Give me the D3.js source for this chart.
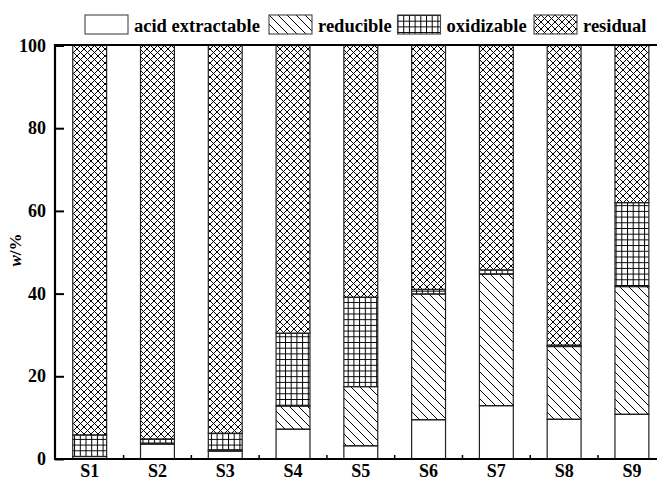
<!DOCTYPE html>
<html>
<head>
<meta charset="utf-8">
<script src="https://cdn.jsdelivr.net/npm/d3@7"></script>
<style>
  body { margin: 0; background: #fff; }
</style>
</head>
<body>
<div class="container"></div>
<script>
// Chart data
const categories = ["S1", "S2", "S3", "S4", "S5", "S6", "S7", "S8", "S9"];
const acid = [0.6, 3.6, 1.9, 7.2, 3.2, 9.5, 12.9, 9.6, 10.8];
const reducible = [0, 0.2, 0.3, 5.6, 14.3, 30.4, 31.8, 17.6, 30.9];
const oxidizable = [5.2, 1.0, 4.0, 17.6, 21.6, 1.1, 1.0, 0.3, 20.3];
const residual = [94.2, 95.2, 93.8, 69.6, 60.9, 59.0, 54.3, 72.5, 38.0];
const seriesNames = ["acid extractable", "reducible", "oxidizable", "residual"];
const yTicks = [0, 20, 40, 60, 80, 100];

const width = 657;
const height = 480;
const serif = "'Liberation Serif', 'Times New Roman', 'DejaVu Serif', serif";

const svg = d3.select(".container").append("svg")
    .attr("width", width)
    .attr("height", height)
    .attr("font-family", serif)
    .attr("font-weight", "bold");

// Hatch patterns
const defs = svg.append("defs");

const pReduc = defs.append("pattern")
    .attr("id", "p-reducible")
    .attr("patternUnits", "userSpaceOnUse")
    .attr("width", 9).attr("height", 9);
pReduc.append("path")
    .attr("d", "M-1,-1 L10,10 M-10,-1 L1,10 M8,-1 L19,10")
    .attr("stroke", "#000").attr("stroke-width", 1);

const pOxid = defs.append("pattern")
    .attr("id", "p-oxidizable")
    .attr("patternUnits", "userSpaceOnUse")
    .attr("width", 5.7).attr("height", 5.7);
pOxid.append("path")
    .attr("d", "M0,0.5 H5.7 M0.5,0 V5.7")
    .attr("stroke", "#000").attr("stroke-width", 1);

const pResid = defs.append("pattern")
    .attr("id", "p-residual")
    .attr("patternUnits", "userSpaceOnUse")
    .attr("width", 7).attr("height", 7);
pResid.append("path")
    .attr("d", "M-1,-1 L8,8 M-1,8 L8,-1 M-8,-1 L1,8 M6,-1 L15,8 M-1,15 L8,6 M-1,1 L1,-1")
    .attr("stroke", "#000").attr("stroke-width", 1);

const fills = ["#fff", "url(#p-reducible)", "url(#p-oxidizable)", "url(#p-residual)"];

// Scales
const x = d3.scaleBand()
    .domain(categories)
    .range([55.8, 665.8])
    .paddingInner(0.5)
    .paddingOuter(0.25);

const y = d3.scaleLinear()
    .domain([0, 100])
    .range([459, 45.5]);

// stacked table
const table = categories.map((c, i) => ({
  cat: c,
  "acid extractable": acid[i],
  "reducible": reducible[i],
  "oxidizable": oxidizable[i],
  "residual": residual[i]
}));
const stacked = d3.stack().keys(seriesNames)(table);

svg.append("g")
  .selectAll("g")
  .data(stacked)
  .enter().append("g")
    .attr("fill", (d, i) => fills[i])
  .selectAll("rect")
  .data(d => d)
  .enter().append("rect")
    .attr("x", d => x(d.data.cat))
    .attr("width", x.bandwidth())
    .attr("y", d => y(d[1]))
    .attr("height", d => y(d[0]) - y(d[1]))
    .attr("stroke", "#222")
    .attr("stroke-width", 1.2);

// Axes
const yAxis = svg.append("g")
    .attr("transform", "translate(55,0)")
    .call(d3.axisRight(y).tickValues(yTicks).tickSize(9).tickFormat(""));
yAxis.select(".domain").remove();
yAxis.selectAll("line").attr("stroke", "#000").attr("stroke-width", 2);

svg.append("g")
  .selectAll("text")
  .data(yTicks)
  .enter().append("text")
    .attr("x", 46)
    .attr("y", d => y(d) + 6)
    .attr("text-anchor", "end")
    .attr("font-size", 18)
    .text(d => d);

// x ticks between bars
const bounds = categories.slice(1).map(c => x(c) - x.step() * x.paddingInner() / 2);
svg.append("g")
  .selectAll("line")
  .data(bounds)
  .enter().append("line")
    .attr("x1", d => d).attr("x2", d => d)
    .attr("y1", 459).attr("y2", 455)
    .attr("stroke", "#000").attr("stroke-width", 1.5);

svg.append("g")
  .selectAll("text")
  .data(categories)
  .enter().append("text")
    .attr("x", d => x(d) + x.bandwidth() / 2)
    .attr("y", 477)
    .attr("text-anchor", "middle")
    .attr("font-size", 18)
    .text(d => d);

// frame lines
svg.append("line")
    .attr("x1", 55).attr("x2", width).attr("y1", 459).attr("y2", 459)
    .attr("stroke", "#000").attr("stroke-width", 2.2);
svg.append("line")
    .attr("x1", 55).attr("x2", width).attr("y1", 45).attr("y2", 45)
    .attr("stroke", "#000").attr("stroke-width", 2);
svg.append("line")
    .attr("x1", 55).attr("x2", 55).attr("y1", 44).attr("y2", 460)
    .attr("stroke", "#000").attr("stroke-width", 2.2);

// y title
const yt = svg.append("text")
    .attr("transform", "translate(21,250) rotate(-90)")
    .attr("text-anchor", "middle")
    .attr("font-size", 17);
yt.append("tspan").attr("font-style", "italic").text("w");
yt.append("tspan").text("/%");

// legend
const legendX = [85, 269, 397.5, 534];
const legend = svg.append("g").attr("class", "legend");
const items = legend.selectAll("g")
  .data(seriesNames)
  .enter().append("g")
    .attr("transform", (d, i) => `translate(${legendX[i]},15)`);
items.append("rect")
    .attr("width", 43).attr("height", 19)
    .attr("fill", (d, i) => fills[i])
    .attr("stroke", "#444").attr("stroke-width", 1.1);
items.append("text")
    .attr("x", 49)
    .attr("y", 16.5)
    .attr("font-size", 18.5)
    .text(d => d);
</script>
</body>
</html>
